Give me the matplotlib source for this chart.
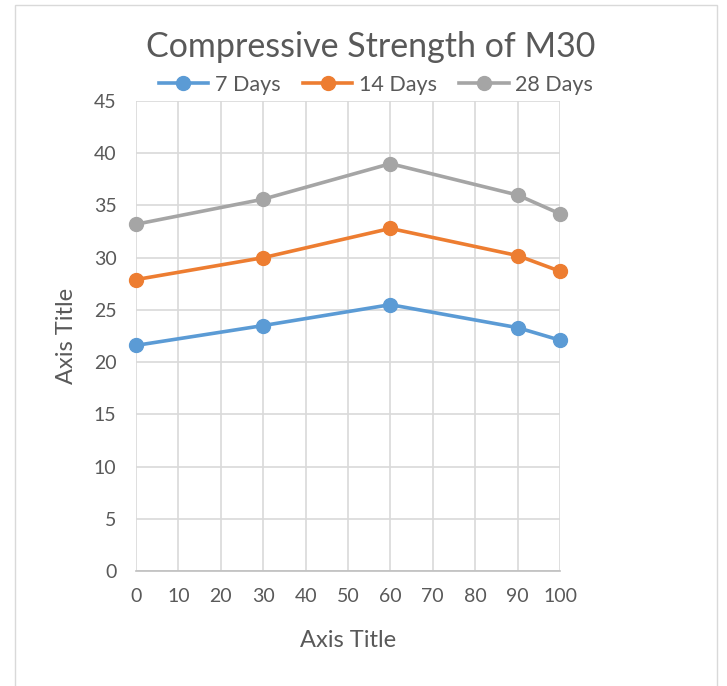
import matplotlib
matplotlib.use("Agg")
import matplotlib.pyplot as plt
from matplotlib.patches import Rectangle
from matplotlib.lines import Line2D

# Replacement levels (x) and compressive strength (y, MPa)
replacement = [0, 30, 60, 90, 100]
days7 = [21.6, 23.5, 25.5, 23.3, 22.1]
days14 = [27.9, 30.0, 32.8, 30.2, 28.7]
days28 = [33.2, 35.6, 39.0, 36.0, 34.2]
series_names = ["7 Days", "14 Days", "28 Days"]
colors = ["#5B9BD5", "#ED7D31", "#A5A5A5"]
x_ticks = list(range(0, 101, 10))
y_ticks = list(range(0, 46, 5))

plt.rcParams["font.family"] = ["Lato", "DejaVu Sans"]
txt = "#595959"

fig = plt.figure(figsize=(7.27, 6.86), dpi=100)
ax = fig.add_axes([136 / 727, 1 - 571 / 686, (560 - 136) / 727, (571 - 101) / 686])

# chart border
fig.patches.append(Rectangle((15 / 727, -0.01), (717 - 15) / 727, 1 - 5 / 686 + 0.01,
                             transform=fig.transFigure, fill=False,
                             edgecolor="#d9d9d9", linewidth=1.0))

lw, ms = 2.6, 10
for vals, name, c in zip([days7, days14, days28], series_names, colors):
    ax.plot(replacement, vals, color=c, linewidth=lw, marker="o",
            markersize=ms, label=name, zorder=3, clip_on=False)

ax.set_xlim(0, 100)
ax.set_ylim(0, 45)
ax.set_xticks(x_ticks)
ax.set_yticks(y_ticks)
ax.grid(True, color="#d9d9d9", linewidth=1.2)
ax.set_axisbelow(True)
for s in ["top", "right", "left"]:
    ax.spines[s].set_visible(False)
ax.spines["bottom"].set_color("#bfbfbf")
ax.spines["bottom"].set_linewidth(1.2)
ax.tick_params(length=0, labelsize=14, colors=txt, pad=12)
ax.tick_params(axis="y", pad=14)

ax.set_xlabel("Axis Title", fontsize=17, color=txt, labelpad=18)
ax.set_ylabel("Axis Title", fontsize=17, color=txt, labelpad=12)

fig.text(371 / 727, 1 - 47 / 686, "Compressive Strength of M30", fontsize=24.5,
         color=txt, ha="center", va="center")

handles = [Line2D([], [], color=c, linewidth=lw, marker="o", markersize=ms)
           for c in colors]
fig.legend(handles, series_names, loc="center", bbox_to_anchor=(376 / 727, 1 - 85 / 686),
           ncol=3, frameon=False, fontsize=15.5, labelcolor=txt, handlelength=2.3,
           handletextpad=0.3, columnspacing=1.05)

fig.savefig("out.png", dpi=100, facecolor="white")
